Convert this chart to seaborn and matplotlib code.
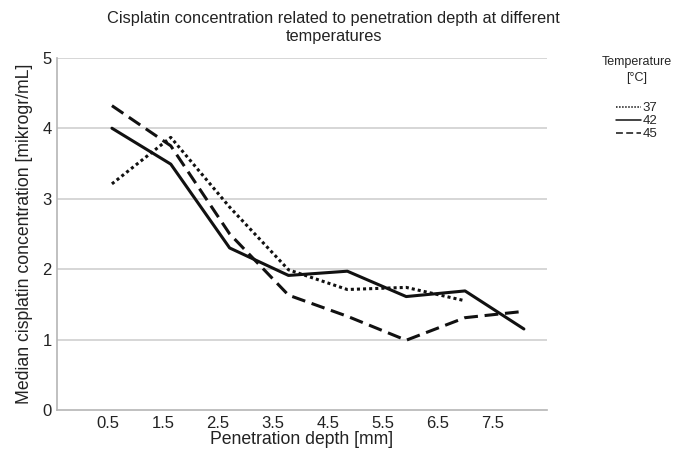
import numpy as np
import pandas as pd
import matplotlib
matplotlib.use("Agg")
import matplotlib.pyplot as plt
import seaborn as sns

depth_labels = ["0.5", "1.5", "2.5", "3.5", "4.5", "5.5", "6.5", "7.5"]
temps = ["37", "42", "45"]
conc_37 = [3.21, 3.87, 2.88, 1.99, 1.71, 1.74, 1.55]
conc_42 = [4.00, 3.49, 2.30, 1.91, 1.97, 1.61, 1.69, 1.15]
conc_45 = [4.32, 3.75, 2.50, 1.63, 1.33, 0.99, 1.31, 1.40]

rows = []
for t, vals in zip(temps, [conc_37, conc_42, conc_45]):
    for i, v in enumerate(vals):
        rows.append({"pos": i, "depth": depth_labels[i], "conc": v, "Temperature": t})
df = pd.DataFrame(rows)

sns.set_theme(style="white")
plt.rcParams['font.family'] = ['Liberation Sans', 'DejaVu Sans']

fig = plt.figure(figsize=(6.81, 4.55), dpi=100)
ax = fig.add_axes([0.084, 0.099, 0.719, 0.774])

dashes = {"37": (1, 1), "42": "", "45": (4.5, 2.2)}
sns.lineplot(data=df, x="pos", y="conc", style="Temperature", dashes=dashes,
             color="#111111", linewidth=2.2, ax=ax, legend=True)

ax.set_ylim(0, 5)
ax.set_xlim(-0.93, 7.39)
ax.set_yticks([0, 1, 2, 3, 4, 5])
ax.set_yticklabels(["0", "1", "2", "3", "4", "5"], fontsize=12, color="#222222")
tick_pos = [-0.068 + 0.934 * i for i in range(len(depth_labels))]
ax.set_xticks(tick_pos)
ax.set_xticklabels(depth_labels, fontsize=12, color="#222222")
ax.tick_params(axis="both", length=0, pad=4)
for y in [1, 2, 3, 4, 5]:
    ax.axhline(y, color="#d0d0d0", linewidth=1.2, zorder=0)
for s in ["top", "right"]:
    ax.spines[s].set_visible(False)
for s in ["left", "bottom"]:
    ax.spines[s].set_color("#b5b5b5")
    ax.spines[s].set_linewidth(1.2)

ax.set_xlabel("Penetration depth [mm]", fontsize=12.7, color="#222222", labelpad=0)
ax.set_ylabel("Median cisplatin concentration [mikrogr/mL]", fontsize=12.7, color="#222222", labelpad=7)
fig.text(0.49, 0.975, "Cisplatin concentration related to penetration depth at different\ntemperatures",
         ha="center", va="top", fontsize=11.8, color="#222222", linespacing=1.25)

handles, labels = ax.get_legend_handles_labels()
leg = ax.legend(handles, labels, title="Temperature\n[°C]", loc="upper right",
                bbox_to_anchor=(0.998, 0.895), bbox_transform=fig.transFigure,
                frameon=False, fontsize=9.5, title_fontsize=9.0, handlelength=1.9,
                handletextpad=0.15, labelspacing=0.05, borderpad=0.1)
for h in leg.get_lines():
    h.set_linewidth(1.1)
leg.get_title().set_multialignment("center")
leg.get_title().set_linespacing(1.5)
leg._legend_box.align = "center"
leg._legend_box.sep = 13

fig.savefig("out.png", dpi=100)
